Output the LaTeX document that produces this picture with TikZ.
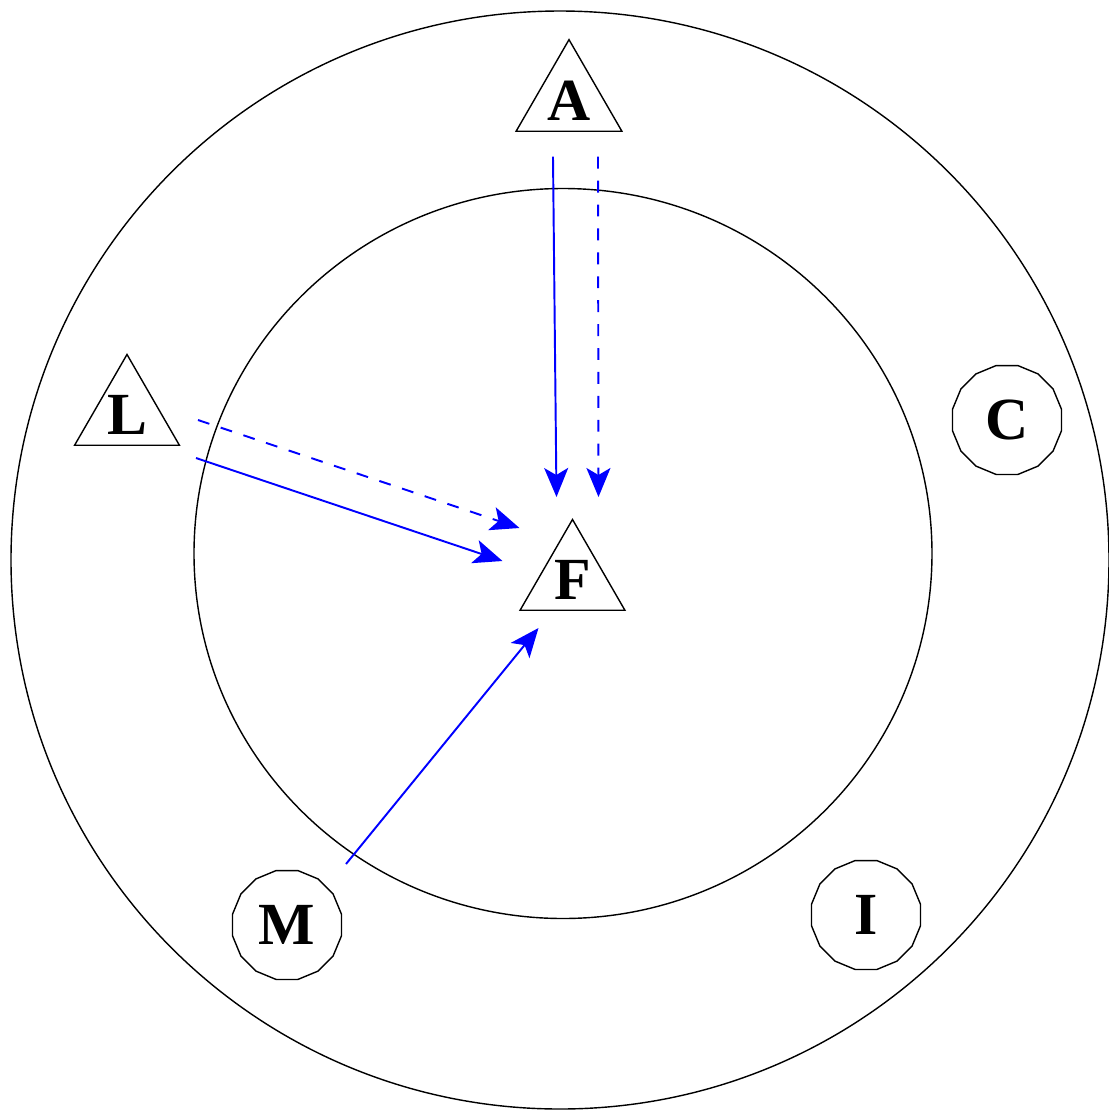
\documentclass[tikz,border=0pt]{standalone}
\usepackage{fontspec}
\setmainfont{Liberation Serif}
\usetikzlibrary{shapes.geometric, arrows.meta, calc}

\begin{document}
\begin{tikzpicture}[
  x=0.01cm, y=-0.01cm,
  every node/.style={font=\fontsize{17}{20}\selectfont\bfseries},
  tri/.style={regular polygon, regular polygon sides=3, draw=black, line width=0.4pt,
    minimum size=1.21cm, inner sep=0pt},
  ring/.style={regular polygon, regular polygon sides=16, draw=black, line width=0.4pt,
    minimum size=1.11cm, inner sep=0pt},
  arr/.style={-{Stealth[length=0.29cm, width=0.24cm, inset=0.07cm]}, blue, line width=0.55pt},
  dasharr/.style={arr, dash pattern=on 3.4pt off 3.4pt}
]
\useasboundingbox (0,0) rectangle (1109,1111);

% ===== RINGS =====
\draw[line width=0.4pt] (560,560) circle [radius=549];
\draw[line width=0.4pt] (563,553.5) ellipse [x radius=369, y radius=365];

% ===== NODES =====
\node[tri] (A) at (569,100.7) {A};
\node[tri] (F) at (572.5,580) {F};
\node[tri] (L) at (127,415) {L};
\node[ring] (C) at (1007,420) {C};
\node[ring] (M) at (287,925) {M};
\node[ring] (I) at (866,915) {I};

% ===== CONNECTORS =====
\draw[arr] ($(A)+(-16,56)$) -- ($(F)+(-16,-83)$);
\draw[dasharr] ($(A)+(29,56)$) -- ($(F)+(26,-83)$);
\draw[arr] ($(L)+(69,43)$) -- ($(F)+(-70,-19)$);
\draw[dasharr] ($(L)+(71,5)$) -- ($(F)+(-53,-52)$);
\draw[arr] ($(M)+(59,-61)$) -- ($(F)+(-34,48)$);
\end{tikzpicture}
\end{document}
